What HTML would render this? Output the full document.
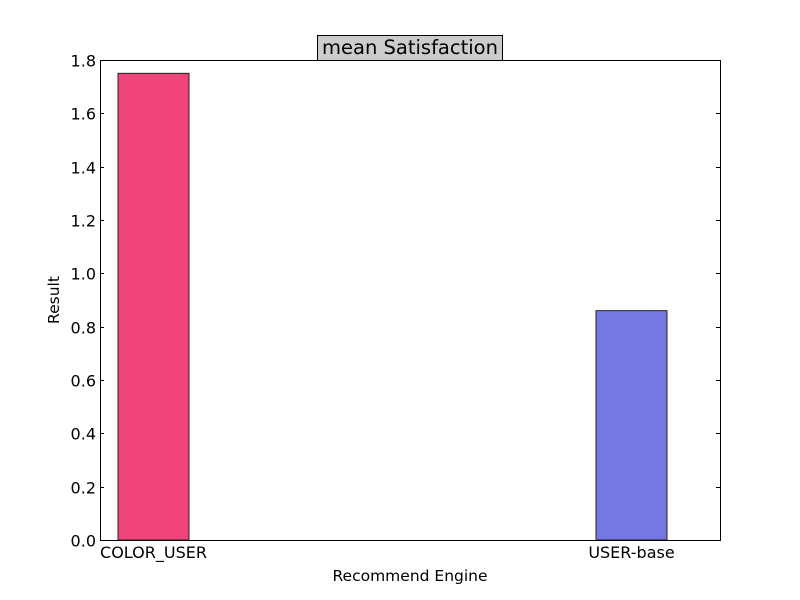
<!DOCTYPE html>
<html><head><meta charset="utf-8"><style>
body{margin:0;background:#fff;}
svg{display:block;font-family:"DejaVu Sans","Liberation Sans",sans-serif;}
</style></head><body>
<svg id="chart" width="800" height="600"></svg>
<script>
const categories = ["COLOR_USER", "USER-base"];
const values = [1.75, 0.86];
const barColors = ["#f0457a", "#7578e3"];
const yTicks = [0.0, 0.2, 0.4, 0.6, 0.8, 1.0, 1.2, 1.4, 1.6, 1.8];

const L=100,R=720,T=60,B=540;
const y = v => B - (v/1.8)*(B-T);
const xc = i => 153.5 + i*478;
const bw = 71;
const svg=document.getElementById('chart');
const NS='http://www.w3.org/2000/svg';
function mk(tag,attrs,parent){const e=document.createElementNS(NS,tag);for(const k in attrs)e.setAttribute(k,attrs[k]);(parent||svg).appendChild(e);return e;}

categories.forEach((c,i)=>{
  const r=mk('rect',{x:xc(i)-bw/2,y:y(values[i]),width:bw,height:B-y(values[i]),fill:barColors[i],stroke:'#222','stroke-width':1});
  
  
  const t=mk('text',{x:xc(i),y:558,'text-anchor':'middle','font-size':16,fill:'#000'});
  t.textContent=c;
  
  
});
yTicks.forEach(v=>{
  const yy=Math.round(y(v))+0.5;
  mk('line',{x1:L,x2:L+4,y1:yy,y2:yy,stroke:'#000'});
  mk('line',{x1:R,x2:R-4,y1:yy,y2:yy,stroke:'#000'});
  const t=mk('text',{x:L-4,y:yy+6,'text-anchor':'end','font-size':16,fill:'#000'});
  t.textContent=v.toFixed(1);
  
  
});
const frame=mk('rect',{x:L+0.5,y:T+0.5,width:R-L,height:B-T,fill:'none',stroke:'#000'});


const tb=mk('rect',{x:317.5,y:35.5,width:185,height:25,fill:'#cccccc',stroke:'#000'});


const title=mk('text',{x:410,y:54,'text-anchor':'middle','font-size':19.5,fill:'#000'});
title.textContent='mean Satisfaction';


const xl=mk('text',{x:410,y:581,'text-anchor':'middle','font-size':15.5,fill:'#000'});
xl.textContent='Recommend Engine';


const yl=mk('text',{x:0,y:0,'text-anchor':'middle','font-size':15.5,fill:'#000',transform:'translate(59,300) rotate(-90)'});
yl.textContent='Result';


</script>
</body></html>
